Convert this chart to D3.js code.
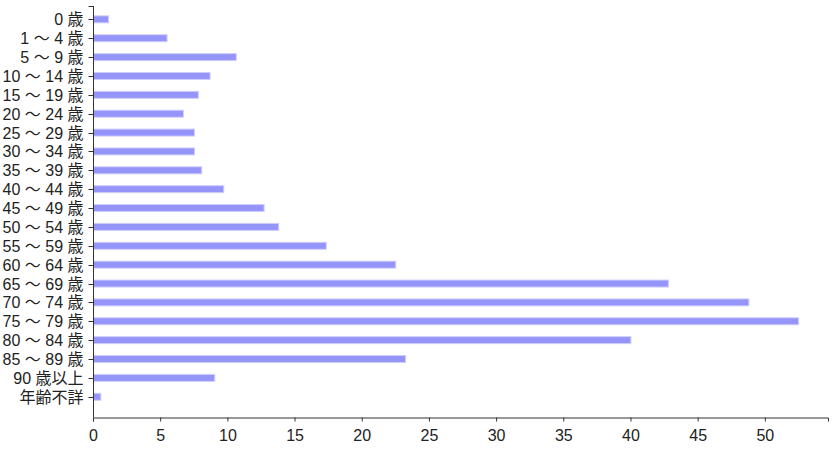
<!DOCTYPE html>
<html><head><meta charset="utf-8">
<script src="https://cdn.jsdelivr.net/npm/d3@7"></script>
<style>
html,body{margin:0;padding:0;background:#fff;}
svg{display:block;}
.ax text{font-family:"Liberation Sans","Noto Sans CJK JP",sans-serif;fill:#222;}
</style></head><body>
<svg id="c" width="836" height="449"></svg>
<script>
const categories = ["0 歳","1 ～ 4 歳","5 ～ 9 歳","10 ～ 14 歳","15 ～ 19 歳","20 ～ 24 歳","25 ～ 29 歳","30 ～ 34 歳","35 ～ 39 歳","40 ～ 44 歳","45 ～ 49 歳","50 ～ 54 歳","55 ～ 59 歳","60 ～ 64 歳","65 ～ 69 歳","70 ～ 74 歳","75 ～ 79 歳","80 ～ 84 歳","85 ～ 89 歳","90 歳以上","年齢不詳"];
const values = [1.2,5.55,10.7,8.75,7.88,6.77,7.59,7.59,8.13,9.77,12.77,13.86,17.4,22.57,42.86,48.85,52.55,40.07,23.3,9.1,0.62];
const xTicks = [0,5,10,15,20,25,30,35,40,45,50];
const xMax = 54.7;

const svg = d3.select("#c");
const x = d3.scaleLinear().domain([0, xMax]).range([93, 828]);
const y = d3.scaleBand().domain(categories).range([9.9, 406.2]).paddingInner(0.576).paddingOuter(0.288);

svg.append("g").selectAll("rect").data(values).join("rect")
  .attr("x", x(0)+0.5)
  .attr("y", (d,i)=> y(categories[i]) + 0.5)
  .attr("width", d => Math.max(0, x(d) - x(0) - 1))
  .attr("height", y.bandwidth() - 1)
  .attr("fill", "#9494f9")
  .attr("stroke", "#cfcffd")
  .attr("stroke-width", 1);

// x axis
const gx = svg.append("g").attr("class","ax").attr("transform","translate(0,417.5)")
  .call(d3.axisBottom(x).tickValues(xTicks).tickSize(4).tickSizeOuter(4).tickPadding(8));
gx.selectAll("text").attr("font-size", 16);
gx.selectAll("path,line").attr("stroke","#333");

// y axis
const gy = svg.append("g").attr("class","ax").attr("transform","translate(93.5,0)");
gy.append("line").attr("x1",0).attr("x2",0).attr("y1",6).attr("y2",417.5).attr("stroke","#333");
gy.append("line").attr("x1",-5).attr("x2",0).attr("y1",6.5).attr("y2",6.5).attr("stroke","#333");
const yt = gy.selectAll("g.t").data(categories).join("g").attr("class","t")
  .attr("transform", d => `translate(0,${Math.round(y(d) + y.bandwidth()/2)+0.5})`);
yt.append("line").attr("x1",-5).attr("x2",0).attr("stroke","#333");
yt.append("text").attr("x",-10).attr("dy","0.35em").attr("text-anchor","end")
  .attr("font-size",16).text(d=>d);
</script>
</body></html>
